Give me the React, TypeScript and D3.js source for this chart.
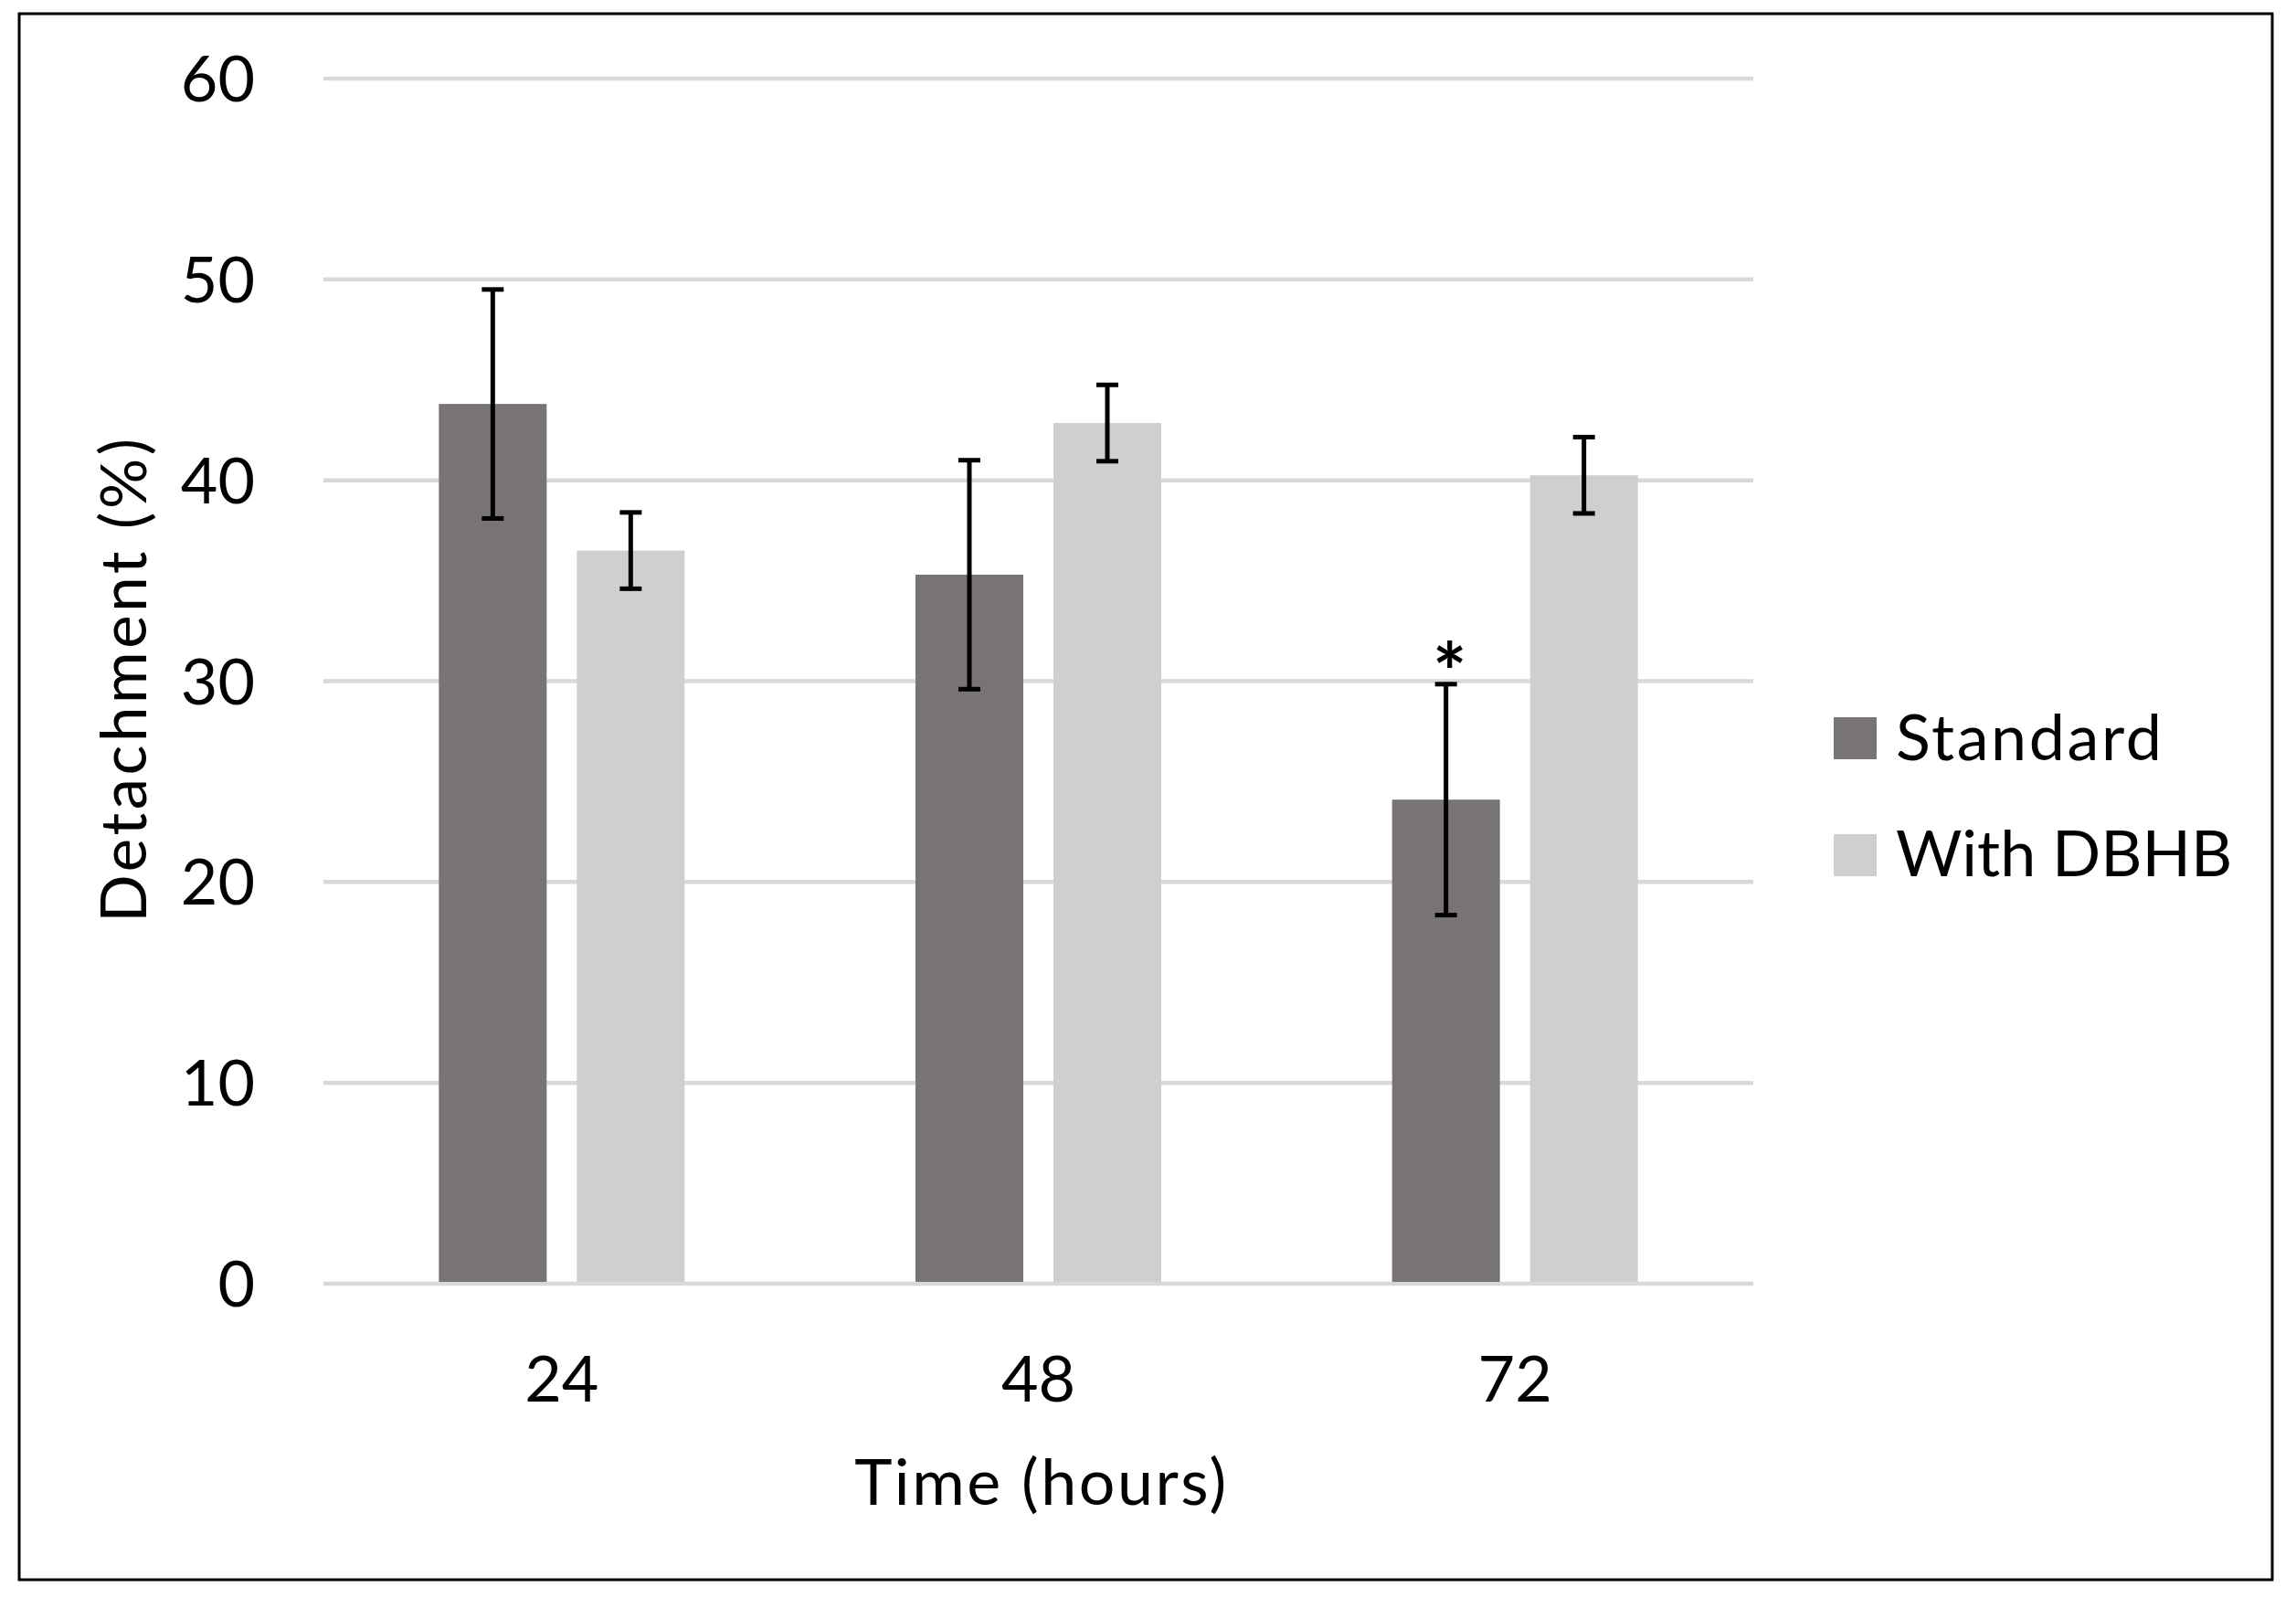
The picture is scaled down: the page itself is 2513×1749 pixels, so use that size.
import React from "react";
import * as d3 from "d3";

const categories = ["24", "48", "72"];
const seriesNames = ["Standard", "With DBHB"];
const standardValues = [43.8, 35.3, 24.1];
const standardErrors = [5.7, 5.7, 5.75];
const dbhbValues = [36.5, 42.85, 40.25];
const dbhbErrors = [1.9, 1.9, 1.9];
const yTicks = [0, 10, 20, 30, 40, 50, 60];
const significance = ["", "", "*"];

const W = 2513;
const H = 1749;
const FONT = "Lato, 'Open Sans', sans-serif";
const colors = ["#797474", "#d0cfcd"];

export default function App() {
  const plotLeft = 354;
  const plotRight = 1919;
  const y = d3.scaleLinear().domain([0, 60]).range([1405, 86]);
  const x0 = d3.scaleBand<string>().domain(categories).range([plotLeft, plotRight]).paddingInner(0).paddingOuter(0);
  const groupW = 269;
  const x1 = d3.scaleBand<string>().domain(seriesNames).range([0, groupW]).paddingInner(0.2185).paddingOuter(0);
  const bw = x1.bandwidth();
  const values = [standardValues, dbhbValues];
  const errors = [standardErrors, dbhbErrors];
  const groupOffset = (x0.bandwidth() - groupW) / 2;
  const capW = 24;

  return (
    <svg width={W} height={H} style={{ position: "absolute", left: 0, top: 0, background: "#fff" }} fontFamily={FONT}>
      <rect x={0} y={0} width={W} height={H} fill="#fff" />
      <rect x={21} y={15} width={2466} height={1714} fill="none" stroke="#000" strokeWidth={3} />
      {yTicks.map((t) => (
        <g key={t}>
          <line x1={plotLeft} x2={plotRight} y1={y(t)} y2={y(t)} stroke="#d9d9d9" strokeWidth={4.5} />
          <text x={279} y={y(t) + 25} textAnchor="end" fontSize={70} fill="#000">
            {t}
          </text>
        </g>
      ))}
      {categories.map((c, ci) =>
        seriesNames.map((s, si) => {
          const bx = (x0(c) as number) + groupOffset + (x1(s) as number);
          const v = values[si][ci];
          const e = errors[si][ci];
          const cx = bx + bw / 2;
          return (
            <g key={c + s}>
              <rect x={bx} y={y(v)} width={bw} height={y(0) - y(v) - 2} fill={colors[si]} />
              <line x1={cx} x2={cx} y1={y(v + e)} y2={y(v - e)} stroke="#000" strokeWidth={5} />
              <line x1={cx - capW / 2} x2={cx + capW / 2} y1={y(v + e)} y2={y(v + e)} stroke="#000" strokeWidth={5} />
              <line x1={cx - capW / 2} x2={cx + capW / 2} y1={y(v - e)} y2={y(v - e)} stroke="#000" strokeWidth={5} />
              {si === 0 && significance[ci] ? (
                <text x={cx + 4} y={y(v + e) + 19} textAnchor="middle" fontSize={88} fontWeight={700} fill="#000">
                  {significance[ci]}
                </text>
              ) : null}
            </g>
          );
        })
      )}
      {categories.map((c) => (
        <text key={c} x={(x0(c) as number) + x0.bandwidth() / 2} y={1534} textAnchor="middle" fontSize={70} fill="#000">
          {c}
        </text>
      ))}
      <text x={1140} y={1647} textAnchor="middle" fontSize={70} fill="#000" letterSpacing={2.5}>
        Time (hours)
      </text>
      <text transform={`translate(160,743) rotate(-90)`} textAnchor="middle" fontSize={69} fill="#000" letterSpacing={3.5}>
        Detachment (%)
      </text>
      {seriesNames.map((s, i) => (
        <g key={s}>
          <rect x={2007} y={785 + i * 128} width={47} height={46} fill={colors[i]} />
          <text x={2075} y={832 + i * 127} fontSize={70} fill="#000" letterSpacing={i === 0 ? 2.6 : 0}>
            {s}
          </text>
        </g>
      ))}
    </svg>
  );
}
